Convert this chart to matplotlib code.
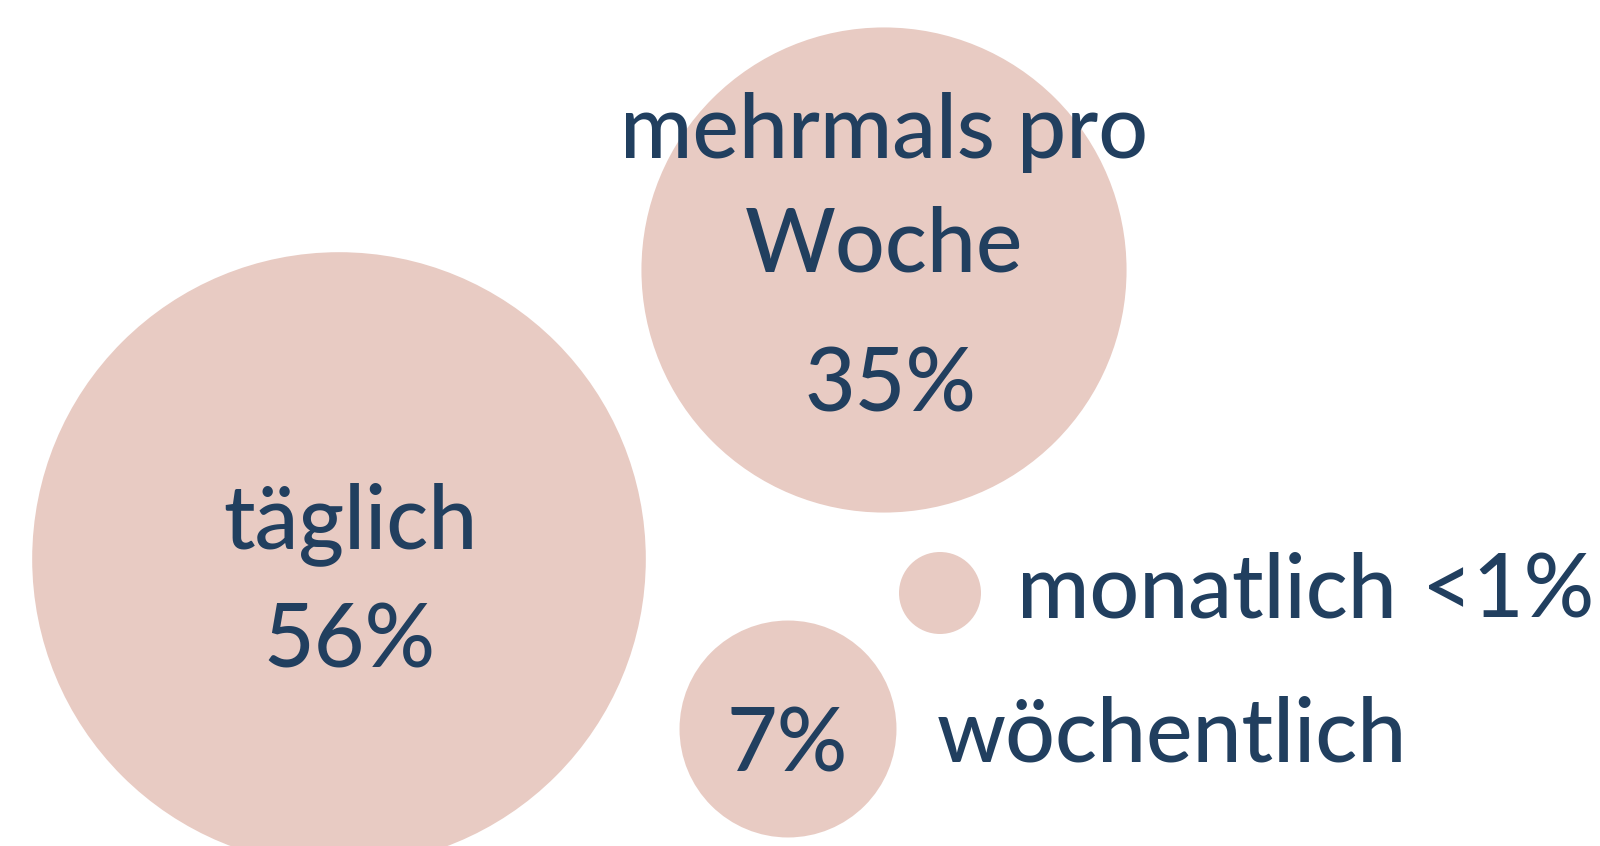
import numpy as np
import matplotlib.pyplot as plt
from matplotlib.patches import Circle

# share of respondents per frequency (percent)
categories = ['täglich', 'mehrmals pro\nWoche', 'wöchentlich', 'monatlich']
shares = [56, 35, 7, 1]
value_labels = ['56%', '35%', '7%', '<1%']

# layout (canvas pixel units, y grows downward)
centers = [(339, 559), (884, 270), (788, 729), (940, 593)]
k = 41.0  # radius per sqrt(percent)

circle_color = '#e8cbc3'
text_color = '#213f5f'
font = 'Lato'

fig = plt.figure(figsize=(16, 8.46), dpi=100)
ax = fig.add_axes([0, 0, 1, 1])
ax.set_xlim(0, 1600)
ax.set_ylim(846, 0)
ax.set_aspect('equal')
ax.axis('off')

for (cx, cy), v in zip(centers, shares):
    r = k * np.sqrt(v)
    ax.add_patch(Circle((cx, cy), r, color=circle_color, lw=0, zorder=1))

fs = 63
kw = dict(color=text_color, fontsize=fs, family=font, weight='medium',
          va='baseline', zorder=3)

# täglich
ax.text(350, 548, categories[0], ha='center', **kw)
ax.text(349, 668, value_labels[0], ha='center', **kw)

# mehrmals pro Woche
l1, l2 = categories[1].split('\n')
ax.text(884, 158, l1, ha='center', **kw)
ax.text(884, 272, l2, ha='center', **kw)
ax.text(890, 411, value_labels[1], ha='center', **kw)

# wöchentlich
ax.text(787, 772, value_labels[2], ha='center', **kw)
ax.text(937, 762, categories[2], ha='left', **kw)

# monatlich
ax.text(1017, 617, categories[3], ha='left', **kw)
ax.text(1594, 617, value_labels[3], ha='right', **kw)

fig.savefig('out.png', dpi=100)
